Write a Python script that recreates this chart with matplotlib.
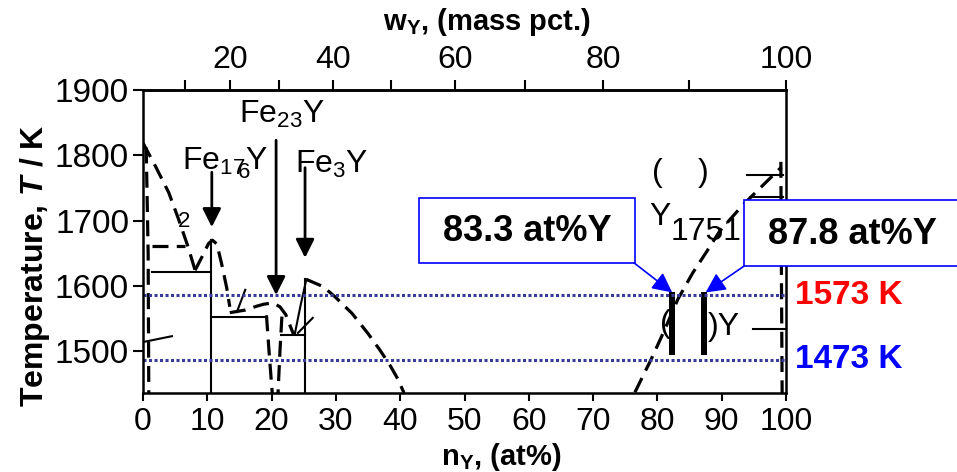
import numpy as np
import matplotlib.pyplot as plt
from matplotlib.patches import Rectangle

plt.rcParams['font.family'] = 'Liberation Sans'
plt.rcParams['mathtext.fontset'] = 'custom'
plt.rcParams['mathtext.rm'] = 'Liberation Sans'
plt.rcParams['mathtext.it'] = 'Liberation Sans:italic'
plt.rcParams['mathtext.bf'] = 'Liberation Sans:bold'
plt.rcParams['mathtext.bfit'] = 'Liberation Sans:bold:italic'
plt.rcParams['mathtext.default'] = 'regular'

M_FE, M_Y = 55.845, 88.906

# dashed boundaries: at% Y, temperature in K
liq_fe_x = [0.0, 2.0, 4.0, 5.5, 7.0, 8.1]
liq_fe_t = [1819, 1782, 1743, 1703, 1660, 1624]
solv_fe_x = [0.5, 0.8, 0.9]
solv_fe_t = [1812, 1650, 1436]
peri_fe_x = [1.4, 6.5]
peri_fe_t = [1661, 1661]
dome17_x = [8.1, 9.2, 10.2, 10.8, 11.5, 12.2, 13.0, 13.5]
dome17_t = [1624, 1645, 1665, 1670, 1664, 1635, 1598, 1568]
liq23_x = [13.5, 15.9, 17.7, 18.8, 20.2, 21.3, 22.2, 23.4]
liq23_t = [1559, 1563, 1569, 1572, 1574, 1568, 1556, 1526]
leg_a_x = [19.2, 19.6, 20.1]
leg_a_t = [1555, 1500, 1436]
leg_b_x = [21.6, 21.3, 21.0]
leg_b_t = [1553, 1500, 1436]
liq3_x = [25.4, 28.0, 29.9, 32.5, 35.0, 36.9, 38.5, 39.6, 40.6]
liq3_t = [1610, 1599, 1583, 1558, 1527, 1501, 1477, 1458, 1436]
liq_y_x = [76.5, 79.0, 81.0, 83.2, 85.5, 87.5, 89.7, 93.3, 96.5, 99.3]
liq_y_t = [1437, 1487, 1530, 1580, 1620, 1650, 1684, 1724, 1755, 1782]
solv_y_x = [99.2, 99.3, 99.4]
solv_y_t = [1790, 1600, 1436]

dashed = [(liq_fe_x, liq_fe_t), (solv_fe_x, solv_fe_t), (peri_fe_x, peri_fe_t),
          (dome17_x, dome17_t), (liq23_x, liq23_t), (leg_a_x, leg_a_t),
          (leg_b_x, leg_b_t), (liq3_x, liq3_t), (liq_y_x, liq_y_t),
          (solv_y_x, solv_y_t)]

# solid boundaries
solid = [([1.4, 10.6], [1621, 1621]),
         ([10.6, 10.6], [1436, 1670]),
         ([10.6, 19.2], [1553, 1553]),
         ([14.6, 15.9], [1560, 1594]),
         ([0.0, 4.5], [1514, 1523]),
         ([21.4, 25.2], [1525, 1525]),
         ([25.2, 25.2], [1436, 1610]),
         ([23.6, 24.5, 25.4], [1526, 1570, 1610]),
         ([24.1, 26.4], [1528, 1551]),
         ([94.9, 100], [1534, 1534]),
         ([94.0, 99.6], [1770, 1770]),
         ([94.4, 99.6], [1736, 1736])]

bar_x = [82.3, 87.2]
bar_lo, bar_hi = 1494, 1590

iso_t = [1586, 1487]
iso_labels = ['1573 K', '1473 K']
iso_colors = ['#ff0000', '#0000ff']

callout_texts = ['83.3 at%Y', '87.8 at%Y']


def at2w(n):
    n = np.asarray(n, dtype=float)
    return 100 * n * M_Y / (n * M_Y + (100 - n) * M_FE)


def w2at(w):
    w = np.asarray(w, dtype=float)
    return 100 * (w / M_Y) / (w / M_Y + (100 - w) / M_FE)


fig = plt.figure(figsize=(9.57, 4.72), dpi=100)
ax = fig.add_axes([143 / 957, 1 - 393 / 472, 643 / 957, 303 / 472])

dash_kw = dict(color='k', lw=2.3, dashes=(5, 2.6))
for x, t in dashed:
    ax.plot(x, t, **dash_kw)
for x, t in solid:
    ax.plot(x, t, color='k', lw=1.5)

ax.vlines(bar_x, bar_lo, bar_hi, color='k', lw=4.3)

for t in iso_t:
    ax.axhline(t, color='#3a3a9c', lw=2.2, ls=(0, (1, 0.8)))
for t, lab, c in zip(iso_t, iso_labels, iso_colors):
    ax.text(101.4, t, lab, color=c, fontsize=24, fontweight='bold',
            va='center', ha='left', clip_on=False)

# compound arrows and labels
arrow_kw = dict(arrowstyle='-|>', color='k', lw=2.0, mutation_scale=28,
                shrinkA=0, shrinkB=0)
ax.annotate('', xy=(10.7, 1690), xytext=(10.7, 1774), arrowprops=arrow_kw)
ax.annotate('', xy=(20.7, 1586), xytext=(20.7, 1823), arrowprops=arrow_kw)
ax.annotate('', xy=(25.2, 1643), xytext=(25.2, 1781), arrowprops=arrow_kw)

ax.text(14.9, 1850, 'Fe$_{23}$Y', fontsize=23, va='baseline')
ax.text(6.1, 1777, 'Fe$_{17}$Y', fontsize=23, va='baseline')
ax.text(14.7, 1765, '6', fontsize=16, va='baseline')
ax.text(5.4, 1690, '2', fontsize=16, va='baseline')
ax.text(23.6, 1773, 'Fe$_{3}$Y', fontsize=23, va='baseline')

ax.text(79.2, 1760, '(', fontsize=23, va='baseline')
ax.text(86.3, 1760, ')', fontsize=23, va='baseline')
ax.text(78.8, 1693, 'Y', fontsize=23, va='baseline')
ax.text(82.0, 1670, '1751', fontsize=23, va='baseline')
ax.text(80.4, 1529, '(', fontsize=23, va='baseline')
ax.text(87.9, 1525, ')Y', fontsize=23, va='baseline')

# callout boxes
boxes = [(42.9, 1635, 33.6, 99.6), (93.5, 1630.5, 36.5, 101)]
tips = [(82.3, 1590), (87.5, 1590)]
corners = [(76.4, 1635), (93.5, 1630.5)]
text_pos = [(59.7, 1684), (110.3, 1679)]
for (bx, by, bw, bh), tip, cor, tp, txt in zip(boxes, tips, corners, text_pos, callout_texts):
    ax.add_patch(Rectangle((bx, by), bw, bh, fill=True, facecolor='white',
                           edgecolor='#0000ff', lw=1.2, clip_on=False, zorder=5))
    ax.text(tp[0], tp[1], txt, fontsize=26, fontweight='bold', ha='center',
            va='center', zorder=6, clip_on=False)
    ax.annotate('', xy=tip, xytext=cor,
                arrowprops=dict(arrowstyle='-|>', color='#0000ff', lw=1.2,
                                mutation_scale=30, shrinkA=0, shrinkB=0),
                zorder=6)

ax.set_xlim(0, 100)
ax.set_ylim(1436, 1900)
ax.set_xticks(np.arange(0, 101, 10))
ax.set_yticks([1500, 1600, 1700, 1800, 1900])
ax.tick_params(axis='x', direction='out', length=6, width=1.5, labelsize=23, pad=4)
ax.tick_params(axis='y', direction='out', length=7, width=1.5, labelsize=24, pad=3)
for s in ax.spines.values():
    s.set_linewidth(1.8)

secax = ax.secondary_xaxis('top', functions=(at2w, w2at))
secax.set_xticks([20, 40, 60, 80, 100])
secax.set_xticks([10, 30, 50, 70, 90], minor=True)
secax.tick_params(which='both', direction='out', length=7, width=1.5, labelsize=23, pad=4)
secax.spines['top'].set_linewidth(1.8)
ax.text(0.535, 1.225, 'w$_{Y}$, (mass pct.)', transform=ax.transAxes,
        fontsize=21, fontweight='bold', ha='center', va='center')

ax.set_xlabel('n$_{Y}$, (at%)', fontsize=21, fontweight='bold', va='center')
ax.xaxis.set_label_coords(0.557, -0.21)
ax.set_ylabel(r'Temperature, $\mathbfit{T}$ / K', fontsize=23, fontweight='bold', va='center')
ax.yaxis.set_label_coords(-0.168, 0.42)

fig.savefig('out.png', dpi=100)
